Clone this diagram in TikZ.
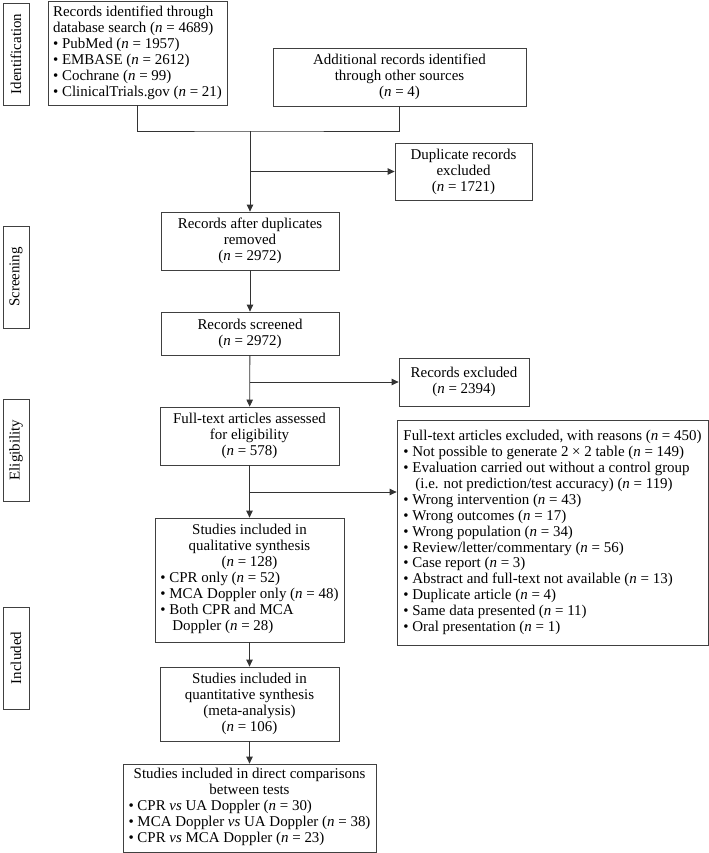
\documentclass[tikz,border=0pt]{standalone}
\usepackage{fontspec}
\setmainfont{Liberation Serif}
\usetikzlibrary{arrows.meta}
\newcommand{\nval}[1]{(\textit{n} = #1)}
\newcommand{\bul}{\textbullet\ }
\newcommand{\vsx}{\textit{vs}}
\tikzset{
  box/.style={draw=black!75, line width=0.8bp, font=\fontsize{15}{16}\selectfont, align=center, inner sep=2bp},
  phase/.style={draw=black!75, line width=0.8bp, font=\fontsize{15}{16}\selectfont, rotate=90, minimum width=102bp, minimum height=26bp, inner sep=0pt},
  flow/.style={draw=black!80, line width=0.8bp, -{Triangle[length=7bp,width=6.5bp]}},
  link/.style={draw=black!80, line width=0.8bp},
}
\begin{document}
\begin{tikzpicture}[x=1bp,y=-1bp]
\useasboundingbox (0,0) rectangle (709,853);
% phases
\node[phase] (ident) at (16,54) {Identification};
\node[phase] (screen) at (16,277) {Screening};
\node[phase] (elig) at (16,450) {Eligibility};
\node[phase] (incl) at (16,658) {Included};
% boxes
\node[box, align=left, minimum width=179bp, minimum height=104bp] (db) at (137.5,53) {Records identified through\\ database search \nval{4689}\\ \bul PubMed \nval{1957}\\ \bul EMBASE \nval{2612}\\ \bul Cochrane \nval{99}\\ \bul ClinicalTrials.gov \nval{21}};
\node[box, minimum width=253bp, minimum height=58bp] (other) at (399.5,77) {Additional records identified\\ through other sources\\ \nval{4}};
\node[box, minimum width=137bp, minimum height=57bp] (dup) at (463.5,171.5) {Duplicate records\\ excluded\\ \nval{1721}};
\node[box, minimum width=178bp, minimum height=58bp] (after) at (250,241) {Records after duplicates\\ removed\\ \nval{2972}};
\node[box, minimum width=178bp, minimum height=43bp] (scr) at (250,333.5) {Records screened\\ \nval{2972}};
\node[box, minimum width=130bp, minimum height=48bp] (excl) at (464,382) {Records excluded\\ \nval{2394}};
\node[box, minimum width=179bp, minimum height=58bp] (full) at (249.5,436) {Full-text articles assessed\\ for eligibility\\ \nval{578}};
\node[box, align=left, minimum width=311bp, minimum height=225bp] (fexcl) at (552.5,532.5) {Full-text articles excluded, with reasons \nval{450}\\ \bul Not possible to generate 2 × 2 table \nval{149}\\ \bul Evaluation carried out without a control group\\ \hspace*{0.8em}(i.e. not prediction/test accuracy) \nval{119}\\ \bul Wrong intervention \nval{43}\\ \bul Wrong outcomes \nval{17}\\ \bul Wrong population \nval{34}\\ \bul Review/letter/commentary \nval{56}\\ \bul Case report \nval{3}\\ \bul Abstract and full-text not available \nval{13}\\ \bul Duplicate article \nval{4}\\ \bul Same data presented \nval{11}\\ \bul Oral presentation \nval{1}};
\node[box, minimum width=189bp, minimum height=124bp] (qual) at (249.5,580) {Studies included in\\ qualitative synthesis\\ \nval{128}\\ \begin{tabular}[t]{@{}l@{}}\bul CPR only \nval{52}\\ \bul MCA Doppler only \nval{48}\\ \bul Both CPR and MCA\\ \hspace*{0.8em}Doppler \nval{28}\end{tabular}};
\node[box, minimum width=179bp, minimum height=74bp] (quant) at (249.5,704) {Studies included in\\ quantitative synthesis\\ (meta-analysis)\\ \nval{106}};
\node[box, minimum width=253bp, minimum height=88bp] (direct) at (249.5,808) {Studies included in direct comparisons\\ between tests\\ \begin{tabular}[t]{@{}l@{}}\bul CPR \vsx{} UA Doppler \nval{30}\\ \bul MCA Doppler \vsx{} UA Doppler \nval{38}\\ \bul CPR \vsx{} MCA Doppler \nval{23}\end{tabular}};
% connectors
\coordinate (jn) at (250,131);
\draw[link] (db.south) |- (jn) -| (other.south);
\draw[flow] (jn) -- (after.north);
\draw[flow] (jn |- dup.west) -- (dup.west);
\draw[flow] (after) -- (scr);
\draw[flow] (scr) -- (full);
\draw[flow] (scr.south |- excl.west) -- (excl.west);
\draw[flow] (full) -- (qual);
\coordinate (br) at (250,492);
\draw[flow] (br) -- (br -| fexcl.west);
\draw[flow] (qual) -- (quant);
\draw[flow] (quant) -- (direct);
\end{tikzpicture}
\end{document}
